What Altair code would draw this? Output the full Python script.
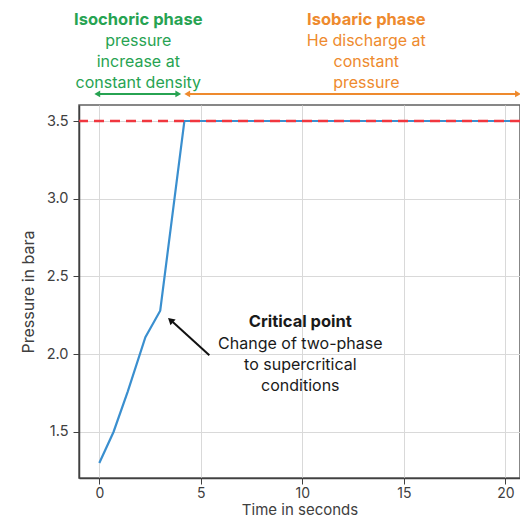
import altair as alt
import pandas as pd

# --- data ---
time_s = [0.0, 0.7, 1.4, 2.27, 3.0, 4.19, 22.0]
pressure_bara = [1.30, 1.50, 1.76, 2.11, 2.28, 3.50, 3.50]
limit_pressure = 3.5

x_ticks = [0, 5, 10, 15, 20]
y_ticks = [1.5, 2.0, 2.5, 3.0, 3.5]

GREEN = "#27a352"
ORANGE = "#ee8a2e"
BLUE = "#3a8fcf"
RED = "#f0373f"
DARK = "#404040"
FONT = "Inter"

XDOM = [-1.0, 20.72]
YDOM = [1.204, 3.603]

line_df = pd.DataFrame({"t": time_s, "p": pressure_bara})

x_enc = alt.X("t:Q", scale=alt.Scale(domain=XDOM, nice=False, zero=False),
              axis=alt.Axis(values=x_ticks, title="Time in seconds", format="d"))
y_enc = alt.Y("p:Q", scale=alt.Scale(domain=YDOM, nice=False, zero=False),
              axis=alt.Axis(values=y_ticks, title="Pressure in bara", format=".1f"))

line = alt.Chart(line_df).mark_line(color=BLUE, strokeWidth=2.2, clip=True).encode(x=x_enc, y=y_enc)

limit = alt.Chart(pd.DataFrame({"p": [limit_pressure]})).mark_rule(
    color=RED, strokeWidth=2.5, strokeDash=[10, 6]).encode(y="p:Q")

# phase header texts
hdr_df = pd.DataFrame({
    "t": [1.92, 13.15],
    "p": [4.150, 4.150],
    "label": ["Isochoric phase", "Isobaric phase"],
    "c": [GREEN, ORANGE],
})
headers = alt.Chart(hdr_df).mark_text(font=FONT, fontSize=16.5, fontWeight="bold",
                                      baseline="middle", clip=False).encode(
    x="t:Q", y="p:Q", text="label:N", color=alt.Color("c:N", scale=None))

sub_df = pd.DataFrame({
    "t": [1.92, 13.15],
    "p": [4.068, 4.068],
    "label": ["pressure\nincrease at\nconstant density",
              "He discharge at\nconstant\npressure"],
    "c": [GREEN, ORANGE],
})
subs = alt.Chart(sub_df).mark_text(font=FONT, fontSize=16, baseline="top", lineBreak="\n",
                                   lineHeight=21, clip=False).encode(
    x="t:Q", y="p:Q", text="label:N", color=alt.Color("c:N", scale=None))

# phase double arrows
arr_df = pd.DataFrame({
    "t1": [-0.02, 4.40], "t2": [3.82, 20.6], "p": [3.674, 3.674], "c": [GREEN, ORANGE]})
arr_lines = alt.Chart(arr_df).mark_rule(strokeWidth=2, clip=False).encode(
    x="t1:Q", x2="t2:Q", y="p:Q", color=alt.Color("c:N", scale=None))

heads_df = pd.DataFrame({
    "t": [-0.10, 3.89, 4.33, 20.62],
    "p": [3.674] * 4,
    "shape": ["triangle-left", "triangle-right", "triangle-left", "triangle-right"],
    "c": [GREEN, GREEN, ORANGE, ORANGE],
})
heads = alt.Chart(heads_df).mark_point(filled=True, size=45, opacity=1, clip=False).encode(
    x="t:Q", y="p:Q", shape=alt.Shape("shape:N", scale=None),
    color=alt.Color("c:N", scale=None))

# critical point annotation
crit_arrow = alt.Chart(pd.DataFrame({"t1": [5.42], "p1": [1.994], "t2": [3.62], "p2": [2.208]})
                       ).mark_rule(color="#111111", strokeWidth=2).encode(
    x="t1:Q", y="p1:Q", x2="t2:Q", y2="p2:Q")
crit_head = alt.Chart(pd.DataFrame({"t": [3.55], "p": [2.214]})).mark_point(
    shape="triangle", filled=True, size=60, angle=312, color="#111111", opacity=1).encode(
    x="t:Q", y="p:Q")

crit_title = alt.Chart(pd.DataFrame({"t": [9.90], "p": [2.206], "label": ["Critical point"]})
                       ).mark_text(font=FONT, fontSize=16.5, fontWeight="bold",
                                   color="#1a1a1a", baseline="middle").encode(
    x="t:Q", y="p:Q", text="label:N")
crit_sub = alt.Chart(pd.DataFrame({"t": [9.90], "p": [2.118],
                                   "label": ["Change of two-phase\nto supercritical\nconditions"]})
                     ).mark_text(font=FONT, fontSize=16, baseline="top", lineBreak="\n",
                                 lineHeight=21, color="#1a1a1a").encode(
    x="t:Q", y="p:Q", text="label:N")

chart = alt.layer(
    line, limit, crit_arrow, crit_head, crit_title, crit_sub,
    arr_lines, heads, headers, subs,
).properties(
    width=441, height=373,
    autosize=alt.AutoSizeParams(type="none"),
    padding={"left": 71, "top": 97, "right": 0, "bottom": 44},
    background="white",
).configure_view(
    stroke="#606060", strokeWidth=1.5
).configure_axis(
    grid=True, gridColor="#d9d9d9", gridWidth=1,
    domainColor=DARK, domainWidth=1.5,
    tickColor=DARK, tickSize=6, tickWidth=1,
    labelColor=DARK, labelFont=FONT, labelFontSize=14,
    titleColor=DARK, titleFont=FONT, titleFontSize=15, titleFontWeight="normal",
).configure_axisY(
    labelFontSize=14.5, labelPadding=5, titlePadding=10, titleFontSize=16,
).configure_axisX(
    labelPadding=2, titlePadding=2,
)

chart.save("out.html", embed_options={"renderer": "svg", "actions": False})
